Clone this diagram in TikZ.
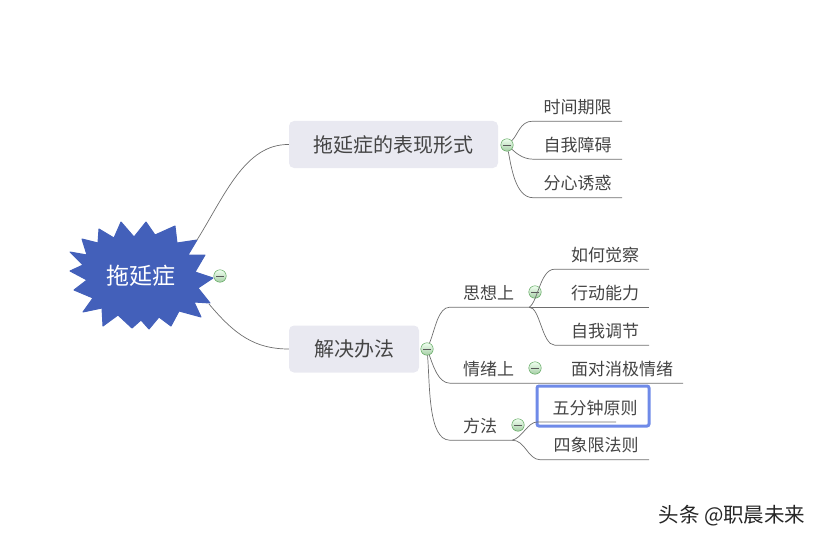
\documentclass[tikz,border=0pt]{standalone}
\usepackage{fontspec}
\setmainfont{Noto Sans CJK SC}
\definecolor{inkgray}{HTML}{444444}
\definecolor{linegray}{HTML}{6E6E6E}
\definecolor{boxgray}{HTML}{E9E9F1}
\definecolor{starblue}{HTML}{4360BA}
\definecolor{selblue}{HTML}{6F8AE8}
\tikzset{
    leaf/.style={text=inkgray, font=\fontsize{17}{19}\selectfont, minimum height=28, inner sep=0},
    sub/.style={leaf, minimum height=28},
    topic/.style={fill=boxgray, rounded corners=5, text=inkgray, font=\fontsize{20}{22}\selectfont, minimum height=47, inner sep=0},
    btn/.style={circle, draw=green!45!black!70, top color=green!6, bottom color=green!45!black!35, minimum size=12.5, inner sep=0,
        path picture={\draw[black!65, line width=.9] ([xshift=-3.8]path picture bounding box.center) -- ([xshift=3.8]path picture bounding box.center);}},
    branch/.style={draw=linegray, line width=.7},
}
\begin{document}
\begin{tikzpicture}[x=1pt,y=-1pt]
    \useasboundingbox (0,0) rectangle (823,543);

    % central star
    \fill[starblue, line join=round, draw=starblue, line width=1] (121,222) -- (134,237) -- (146,222) -- (155,235) -- (175,226) -- (177,243) -- (197,240) -- (188,255) -- (205,255) -- (195,272) -- (213,278) -- (198,288) -- (210,303) -- (194,302) -- (201,317) -- (179,311) -- (171,326) -- (159,317) -- (149,329) -- (141,320) -- (132,328) -- (118,315) -- (103,326) -- (102,308) -- (83,312) -- (93,298) -- (74,290) -- (87,280) -- (70,271) -- (83,265) -- (70,252) -- (87,255) -- (82,239) -- (98,243) -- (99,229) -- (114,238) -- cycle;
    \node[text=white, font=\fontsize{23}{25}\selectfont, inner sep=0] (root) at (141,276) {拖延症};
    \coordinate (rootup) at (197,240);
    \coordinate (rootdown) at (209,304);
    \node[btn] (rootbtn) at (220,276) {};

    % first topic
    \node[topic, minimum width=209] (forms) at (393.5,144.5) {拖延症的表现形式};
    \node[btn] (formsbtn) at (507,145) {};
    \node[leaf, minimum width=89] (formsa) at (577.5,107) {时间期限};
    \node[leaf, minimum width=89] (formsb) at (577.5,145) {自我障碍};
    \node[leaf, minimum width=89] (formsc) at (577.5,183.5) {分心诱惑};

    % second topic
    \node[topic, minimum width=130] (fix) at (354,349) {解决办法};
    \node[btn] (fixbtn) at (427,349) {};

    \node[sub, minimum width=79, text width=79, align=left] (mind) at (489.5,293) {\hspace{13pt}思想上};
    \node[btn] (mindbtn) at (535,292) {};
    \node[leaf, minimum width=94] (minda) at (602,255) {\hspace{6pt}如何觉察};
    \node[leaf, minimum width=120] (mindb) at (589,293) {\hspace{32pt}行动能力};
    \node[leaf, minimum width=94] (mindc) at (602,331) {\hspace{6pt}自我调节};

    \node[sub, minimum width=79, text width=79, align=left] (mood) at (489.5,369) {\hspace{13pt}情绪上};
    \node[btn] (moodbtn) at (535,368) {};
    \node[leaf, minimum width=154] (mooda) at (606,369) {\hspace{32pt}面对消极情绪};

    \node[sub, minimum width=62, text width=62, align=left] (way) at (481,426) {\hspace{13pt}方法};
    \node[btn] (waybtn) at (518,425) {};
    \node[draw=selblue, line width=3, rounded corners=2, minimum width=112, minimum height=40, inner sep=0] (waybox) at (593,406) {};
    \node[leaf] (waya) at (595,408) {五分钟原则};
    \coordinate (wayastart) at (537,422);
    \coordinate (wayaend) at (616,422);
    \node[leaf, minimum width=109] (wayb) at (594.5,445.5) {\hspace{3pt}四象限法则};

    % connectors
    \draw[branch] (rootup) .. controls (225,195) and (245,144) .. (forms.west);
    \draw[branch] (rootdown) .. controls (235,335) and (255,349) .. (fix.west);

    \draw[branch] (formsbtn) .. controls (518,135) and (520,121) .. (formsa.south west) -- (formsa.south east);
    \draw[branch] (formsbtn) .. controls (515,152) and (522,159) .. (formsb.south west) -- (formsb.south east);
    \draw[branch] (formsbtn) .. controls (511,165) and (515,197.5) .. (formsc.south west) -- (formsc.south east);

    \draw[branch] (fixbtn) .. controls (435,330) and (438,307) .. (mind.south west) -- (mind.south east);
    \draw[branch] (fixbtn) .. controls (433,365) and (438,383) .. (mood.south west) -- (mooda.south east);
    \draw[branch] (fixbtn) .. controls (430,385) and (428,440) .. (way.south west) -- (way.south east);

    \draw[branch] (mind.south east) .. controls (538,302) and (540,269) .. (minda.south west) -- (minda.south east);
    \draw[branch] (mind.south east) -- (mindb.south east);
    \draw[branch] (mind.south east) .. controls (540,307) and (542,345) .. (mindc.south west) -- (mindc.south east);

    \draw[branch] (way.south east) .. controls (522,438) and (528,422) .. (wayastart) -- (wayaend);
    \draw[branch] (way.south east) .. controls (525,440) and (528,459.5) .. (wayb.south west) -- (wayb.south east);

    \node[text=black!85, font=\fontsize{20.5}{22}\selectfont, inner sep=0] (mark) at (732,516) {头条 @职晨未来};
\end{tikzpicture}
\end{document}
